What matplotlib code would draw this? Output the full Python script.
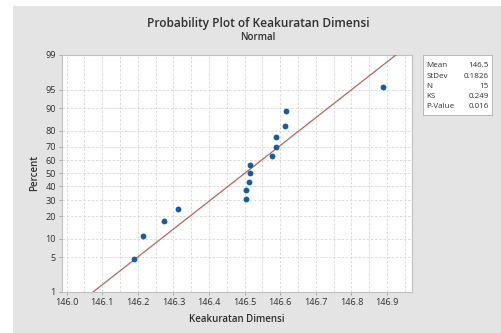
import numpy as np
import matplotlib
matplotlib.use("Agg")
import matplotlib.pyplot as plt
from statistics import NormalDist

# ---- data ----
values = [146.19, 146.215, 146.274, 146.312, 146.503, 146.503, 146.512, 146.515,
          146.515, 146.577, 146.589, 146.589, 146.614, 146.617, 146.889]
mean_val = 146.5
sd_val = 0.1826
n_val = 15
ks_val = 0.249
p_val = 0.016
y_ticks = [1, 5, 10, 20, 30, 40, 50, 60, 70, 80, 90, 95, 99]
x_ticks = [146.0, 146.1, 146.2, 146.3, 146.4, 146.5, 146.6, 146.7, 146.8, 146.9]
stat_labels = ["Mean", "StDev", "N", "KS", "P-Value"]
stat_values = ["146.5", "0.1826", "15", "0.249", "0.016"]

plt.rcParams['font.family'] = ['Open Sans', 'DejaVu Sans']

nd = NormalDist()
_ppf = np.vectorize(lambda p: nd.inv_cdf(min(max(p, 1e-9), 100 - 1e-9) / 100.0), otypes=[float])
_cdf = np.vectorize(lambda z: nd.cdf(z) * 100.0, otypes=[float])

def fwd(p):
    return _ppf(np.asarray(p, dtype=float))

def inv(z):
    return _cdf(np.asarray(z, dtype=float))

fig = plt.figure(figsize=(5.01, 3.33), dpi=100)
fig.patch.set_facecolor("white")
bg = fig.add_axes([13 / 501, 0, 1 - 13 / 501, 1 - 6 / 333], zorder=0)
bg.set_facecolor("#e4e4e4")
bg.set_xticks([]); bg.set_yticks([])
for s in bg.spines.values():
    s.set_visible(False)

ax = fig.add_axes([62 / 501, (333 - 291.7) / 333, (412 - 62) / 501, (291.7 - 55) / 333], zorder=2)
ax.set_facecolor("white")
ax.set_yscale("function", functions=(fwd, inv))

xs = np.sort(np.array(values))
n = len(xs)
ranks = np.arange(1, n + 1)
pct = (ranks - 0.3) / (n + 0.4) * 100

# fitted line
pline = np.array([1.0, 99.0])
zline = np.array([nd.inv_cdf(p / 100) for p in pline])
xline = mean_val + sd_val * zline
ax.plot(xline, pline, color="#b5645d", lw=0.9, zorder=3)

ax.plot(xs, pct, "o", color="#165ca0", markersize=4.2, markeredgewidth=0, zorder=4)

ax.set_xlim(145.987, 146.97)
ax.set_ylim(1, 99)
ax.set_xticks(x_ticks)
ax.set_xticklabels([f"{t:.1f}" for t in x_ticks])
ax.set_xticks(np.arange(146.05, 146.96, 0.1), minor=True)
ax.set_yticks(y_ticks)
ax.set_yticklabels([str(t) for t in y_ticks])
ax.yaxis.set_minor_locator(matplotlib.ticker.NullLocator())

ax.grid(True, which="both", axis="x", color="#d6d6d6", lw=0.6, ls=(0, (3, 2)))
ax.grid(True, which="major", axis="y", color="#d6d6d6", lw=0.6, ls=(0, (3, 2)))
ax.tick_params(axis="x", which="minor", length=0)
ax.tick_params(axis="both", which="major", labelsize=6.6, length=2.5, width=0.6,
               color="#a0a0a0", labelcolor="#303030", pad=2)
for s in ax.spines.values():
    s.set_color("#c0c0c0")
    s.set_linewidth(0.8)

ax.set_xlabel("Keakuratan Dimensi", fontsize=7, fontweight="semibold", color="#303030", labelpad=5)
ax.set_ylabel("Percent", fontsize=7, fontweight="semibold", color="#303030", labelpad=4)

fig.text(0.515, 1 - 23 / 333, "Probability Plot of Keakuratan Dimensi", ha="center", va="center",
         fontsize=8.6, fontweight="semibold", color="#303030", zorder=3)
fig.text(0.515, 1 - 37 / 333, "Normal", ha="center", va="center",
         fontsize=7, fontweight="semibold", color="#303030", zorder=3)

# stats box
bx0, bx1 = 423 / 501, 492 / 501
by_top, by_bot = 1 - 55 / 333, 1 - 115 / 333
box = fig.add_axes([bx0, by_bot, bx1 - bx0, by_top - by_bot], zorder=2)
box.set_facecolor("white")
box.set_xticks([]); box.set_yticks([])
for s in box.spines.values():
    s.set_color("#b8b8b8")
    s.set_linewidth(0.7)
for i, (lab, val) in enumerate(zip(stat_labels, stat_values)):
    yy = 1 - (65.7 + i * 10.3) / 333
    fig.text(426.5 / 501, yy, lab, ha="left", va="center", fontsize=5.8, color="#303030", zorder=5)
    fig.text(488.5 / 501, yy, val, ha="right", va="center", fontsize=5.8, color="#303030", zorder=5)

fig.savefig("out.png", dpi=100, facecolor=fig.get_facecolor())
